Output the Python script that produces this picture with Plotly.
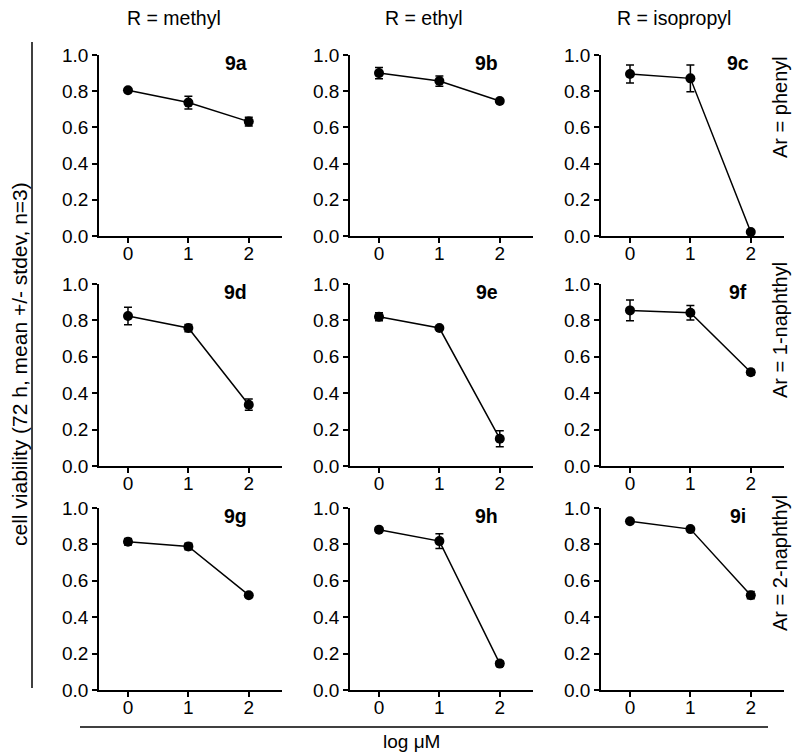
import plotly.graph_objects as go

# ---- data ----
log_um = [0, 1, 2]
panel_labels = ["9a", "9b", "9c", "9d", "9e", "9f", "9g", "9h", "9i"]
col_titles = ["R = methyl", "R = ethyl", "R = isopropyl"]
row_titles = ["Ar = phenyl", "Ar = 1-naphthyl", "Ar = 2-naphthyl"]

v_9a = [0.805, 0.737, 0.632]
e_9a = [0.008, 0.035, 0.024]
v_9b = [0.900, 0.856, 0.746]
e_9b = [0.031, 0.028, 0.006]
v_9c = [0.895, 0.871, 0.022]
e_9c = [0.050, 0.074, 0.004]
v_9d = [0.824, 0.758, 0.337]
e_9d = [0.048, 0.020, 0.031]
v_9e = [0.820, 0.758, 0.150]
e_9e = [0.022, 0.005, 0.044]
v_9f = [0.855, 0.842, 0.515]
e_9f = [0.057, 0.040, 0.015]
v_9g = [0.815, 0.789, 0.521]
e_9g = [0.018, 0.018, 0.005]
v_9h = [0.881, 0.818, 0.145]
e_9h = [0.006, 0.040, 0.015]
v_9i = [0.927, 0.884, 0.521]
e_9i = [0.005, 0.005, 0.020]

values = [v_9a, v_9b, v_9c, v_9d, v_9e, v_9f, v_9g, v_9h, v_9i]
errors = [e_9a, e_9b, e_9c, e_9d, e_9e, e_9f, e_9g, e_9h, e_9i]

y_ticks = [0.0, 0.2, 0.4, 0.6, 0.8, 1.0]

# ---- layout geometry (target pixels in the screenshot) ----
W, H = 800, 753
OFF = 8  # page body margin
col_px = [(99, 282), (350, 533), (601, 784)]
row_px = [(55, 236), (284, 466), (508, 690)]


def px(x):
    return (x - OFF) / W


def py(y):
    return 1 - (y - OFF) / H


FONT = "Liberation Sans, Arial, Helvetica, sans-serif"

fig = go.Figure()
annotations = []

for i in range(9):
    r, c = divmod(i, 3)
    idx = "" if i == 0 else str(i + 1)
    xa, ya = "x" + idx, "y" + idx
    fig.add_trace(go.Scatter(
        x=log_um, y=values[i], xaxis=xa, yaxis=ya,
        mode="lines+markers",
        line=dict(color="black", width=1.5),
        marker=dict(color="black", size=10),
        error_y=dict(type="data", array=errors[i], color="black",
                     thickness=1.5, width=4, visible=True),
        cliponaxis=False, showlegend=False,
    ))
    x0, x1 = col_px[c]
    y0, y1 = row_px[r]
    axis_common = dict(showgrid=False, zeroline=False, showline=True,
                       linecolor="black", linewidth=1.5, ticks="outside",
                       ticklen=5, tickwidth=1.5, tickcolor="black",
                       automargin=False,
                       tickfont=dict(family=FONT, size=19, color="black"))
    fig.layout["xaxis" + idx] = dict(
        domain=[px(x0), px(x1)], range=[-0.48, 2.55], anchor=ya,
        tickvals=log_um, ticklabelstandoff=-6, **axis_common)
    fig.layout["yaxis" + idx] = dict(
        domain=[py(y1), py(y0)], range=[0, 1], anchor=xa,
        tickvals=y_ticks, tickformat=".1f", **axis_common)
    annotations.append(dict(
        x=1.78, y=0.955, xref=xa, yref=ya, xanchor="center", yanchor="middle",
        text="<b>" + panel_labels[i] + "</b>",
        showarrow=False, font=dict(family=FONT, size=19.5, color="black")))

for c, t in enumerate(col_titles):
    annotations.append(dict(
        x=px([174, 424, 674][c]), y=py(18), xref="paper", yref="paper",
        xanchor="center", yanchor="middle",
        text=t, showarrow=False, font=dict(family=FONT, size=19.5, color="black")))

for r, t in enumerate(row_titles):
    annotations.append(dict(
        x=px(780), y=py([107, 330, 563][r]), xref="paper", yref="paper",
        xanchor="center", yanchor="middle",
        text=t, textangle=-90, showarrow=False,
        font=dict(family=FONT, size=20, color="black")))

annotations.append(dict(
    x=px(19), y=py(364), xref="paper", yref="paper",
    xanchor="center", yanchor="middle",
    text="cell viability (72 h, mean +/- stdev, n=3)", textangle=-90,
    showarrow=False, font=dict(family=FONT, size=21, color="black")))
annotations.append(dict(
    x=px(411), y=py(741), xref="paper", yref="paper",
    xanchor="center", yanchor="middle",
    text="log μM", showarrow=False, font=dict(family=FONT, size=19, color="black")))

shapes = [
    dict(type="line", xref="paper", yref="paper", x0=px(32), x1=px(32),
         y0=py(42), y1=py(688), line=dict(color="black", width=1.5)),
    dict(type="line", xref="paper", yref="paper", x0=px(80), x1=px(768),
         y0=py(727), y1=py(727), line=dict(color="black", width=1.5)),
]

fig.update_layout(
    width=W, height=H,
    margin=dict(l=0, r=0, t=0, b=0, pad=0, autoexpand=False),
    paper_bgcolor="white", plot_bgcolor="white",
    annotations=annotations, shapes=shapes, showlegend=False,
    font=dict(family=FONT, color="black"),
)

fig.write_html("out.html")
